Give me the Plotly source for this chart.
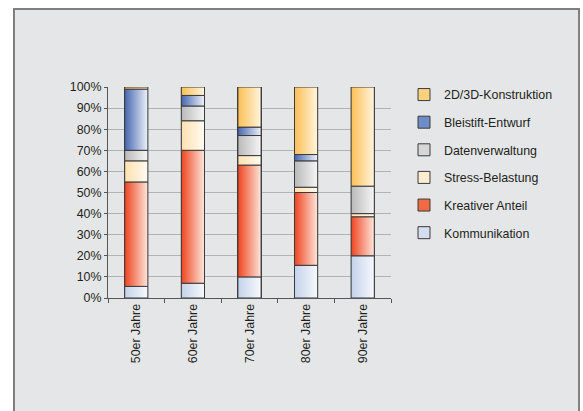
import plotly.graph_objects as go

# Decades on the x axis
decades = ["50er Jahre", "60er Jahre", "70er Jahre", "80er Jahre", "90er Jahre"]

# Share of each activity per decade (percent, stacked bottom to top)
kommunikation = [5.5, 7, 10, 15.5, 20]
kreativer_anteil = [49.5, 63, 53, 34.5, 18.5]
stress_belastung = [10, 14, 4.5, 2.5, 1.5]
datenverwaltung = [5, 7, 9.5, 12.5, 13]
bleistift_entwurf = [29, 5, 4, 3, 0]
konstruktion_2d3d = [1, 4, 19, 32, 47]

y_ticks = [0, 10, 20, 30, 40, 50, 60, 70, 80, 90, 100]

# name, values, swatch colour, gradient left -> right
series = [
    ("Kommunikation", kommunikation, "#d3def0", "#c3d2ea", "#f7f9fd"),
    ("Kreativer Anteil", kreativer_anteil, "#f26a45", "#ef4420", "#fde6dc"),
    ("Stress-Belastung", stress_belastung, "#feecd0", "#fde0ae", "#fffbf2"),
    ("Datenverwaltung", datenverwaltung, "#d6d6d6", "#b9b9b9", "#f6f6f6"),
    ("Bleistift-Entwurf", bleistift_entwurf, "#6f8cc6", "#4566b0", "#eef2f9"),
    ("2D/3D-Konstruktion", konstruktion_2d3d, "#fcd07f", "#fbbf55", "#fff5de"),
]

BAR_W = 0.41
OUTLINE = "#3a3a3a"
FONT = "Liberation Sans, Arial, Helvetica, sans-serif"
TEXT = "#231f20"
FS = 12.4

x_pos = list(range(len(decades)))
fig = go.Figure()

# Solid stacked bars (also provide the legend swatches); top series listed first
n = len(series)
for k, (name, vals, swatch, _, _) in enumerate(series):
    fig.add_trace(go.Bar(
        x=x_pos, y=vals, name=name, width=BAR_W,
        marker=dict(color=swatch, line=dict(color=OUTLINE, width=1)),
        legendgroup=name, showlegend=True, legendrank=n - k,
    ))

# Gradient-filled segments laid over the bars
bottoms = [0.0] * len(decades)
for name, vals, _, c_left, c_right in series:
    for i, v in enumerate(vals):
        b = bottoms[i]
        t = b + v
        if v > 0:
            x0, x1 = i - BAR_W / 2, i + BAR_W / 2
            fig.add_trace(go.Scatter(
                x=[x0, x1, x1, x0, x0], y=[b, b, t, t, b],
                mode="lines", fill="toself",
                fillgradient=dict(type="horizontal",
                                  colorscale=[[0, c_left], [1, c_right]]),
                line=dict(color=OUTLINE, width=1),
                legendgroup=name, showlegend=False, hoverinfo="skip",
            ))
        bottoms[i] = t

# Chart panel: grey box with dark frame
L, R, T, B = 108, 192, 87, 113
pw, ph = 583 - L - R, 411 - T - B
fig.add_shape(
    type="rect", xref="paper", yref="paper", layer="below",
    x0=(14 - L) / pw, x1=(579 - L) / pw,
    y0=-(460 - (411 - B)) / ph, y1=((411 - B) - 9) / ph,
    fillcolor="#e5e6e7", line=dict(color="#7f7f7f", width=2),
)

fig.update_layout(
    width=583, height=411,
    margin=dict(l=L, r=R, t=T, b=B),
    paper_bgcolor="white", plot_bgcolor="rgba(0,0,0,0)",
    barmode="stack",
    font=dict(family=FONT, size=FS, color=TEXT),
    legend=dict(
        x=(404 - L) / pw, y=((411 - B) - 80) / ph,
        xanchor="left", yanchor="top",
        traceorder="grouped", tracegroupgap=8.5,
        itemwidth=30, bgcolor="rgba(0,0,0,0)",
        font=dict(size=FS, color=TEXT),
    ),
    xaxis=dict(
        range=[-0.5, len(decades) - 0.5],
        tickmode="array", tickvals=x_pos, ticktext=decades,
        tickangle=-90, ticks="", showgrid=False, zeroline=False,
        showline=True, linecolor="#555555", linewidth=1,
        minor=dict(tickmode="linear", tick0=-0.5, dtick=1,
                   ticks="outside", ticklen=4, tickcolor="#555555",
                   showgrid=False),
        tickfont=dict(size=FS, color=TEXT),
        fixedrange=True,
    ),
    yaxis=dict(
        range=[0, 100], tickmode="array", tickvals=y_ticks,
        ticktext=[f"{v}%" for v in y_ticks],
        ticks="outside", ticklen=3, tickcolor="#555555",
        showgrid=True, gridcolor="#b3b3b3", gridwidth=1,
        zeroline=False, showline=True, linecolor="#555555", linewidth=1,
        tickfont=dict(size=FS, color=TEXT),
        fixedrange=True,
    ),
)

fig.write_html("out.html")
